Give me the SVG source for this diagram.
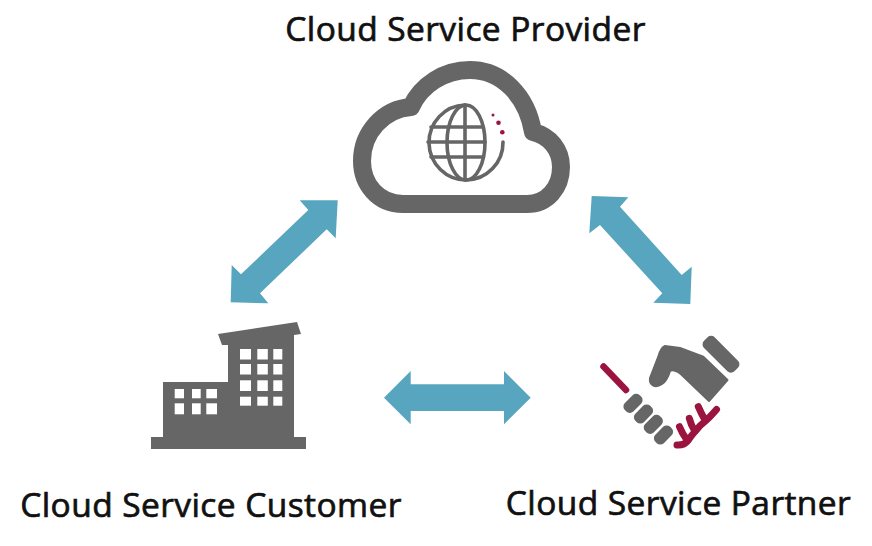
<svg xmlns="http://www.w3.org/2000/svg" width="872" height="546" viewBox="0 0 872 546">
<style>
.t{font-family:"Open Sans","Noto Sans","Liberation Sans",sans-serif;font-weight:400;font-size:33.5px;letter-spacing:.42px;fill:#111;stroke:#111;stroke-width:.7px}
.g{fill:#666}
.gl{fill:none;stroke:#666;stroke-linecap:round;stroke-linejoin:round}
.r{fill:none;stroke:#9b1440;stroke-linecap:round;stroke-linejoin:round}
.w{fill:#fff}
.a{fill:#57a5bf}
</style>
<rect width="872" height="546" fill="#fff"/>
<g id="connectors">
<polygon class="a" points="337.7,200.3 299.7,200.3 308.3,210 241,274.3 231.7,265 230.7,302.3 268.3,303.3 260,293.3 326.7,229.3 335.7,238.3"/>
<polygon class="a" points="591.7,196 628.3,197.3 620,206.7 681.7,275 691.7,266.7 690.3,304 653.3,302.7 662.3,293.3 600,225 589.3,233.3"/>
<polygon class="a" points="384,397.7 410.7,371 410.7,384.3 504,384.3 504,371 530.7,397.7 504,424.3 504,411 410.7,411 410.7,424.3"/>
</g>
<g id="provider">
<text class="t" x="465.5" y="41" text-anchor="middle">Cloud Service Provider</text>
<path class="gl" stroke-width="18" d="M403,204 C378,204 362,184 362,161 C362,132 384,109 411,107 C421,85 444,70 470,70 C502,70 527,96 533,132 C550,136 561,150 561,167 C561,188 547,204 527,204 Z"/>
<path class="gl" stroke-width="3.6" d="M465,105 A37,37.5 0 1 0 503,142"/>
<ellipse cx="466" cy="142.500" rx="19" ry="37.500" fill="none" stroke="#666" stroke-width="3.600"/>
<path class="gl" stroke-width="3.600" d="M465,105V180M431,127H483M428,142H485M431,157H483"/>
<circle cx="493" cy="115" r="1.500" fill="#9b1440"/>
<circle cx="498.500" cy="122.700" r="2.300" fill="#9b1440"/>
<circle cx="502.300" cy="132.300" r="2.300" fill="#9b1440"/>
</g>
<g id="customer">
<polygon class="g" points="151,437 163,437 163,382 228,382 228,345 222,345 218,334 297,322 301,334 294,335 294,437 306,437 306,449 151,449"/>
<g class="w">
<rect x="240" y="349" width="11" height="10.500"/><rect x="257.300" y="349" width="10.500" height="10.500"/><rect x="273.300" y="349" width="9" height="10.500"/>
<rect x="240" y="364" width="11" height="10.500"/><rect x="257.300" y="364" width="10.500" height="10.500"/><rect x="273.300" y="364" width="9" height="10.500"/>
<rect x="240" y="380.300" width="11" height="10.700"/><rect x="257.300" y="380.300" width="10.500" height="10.700"/><rect x="273.300" y="380.300" width="9" height="10.700"/>
<rect x="240" y="396.700" width="11" height="9"/><rect x="257.300" y="396.700" width="10.500" height="9"/><rect x="273.300" y="396.700" width="9" height="9"/>
<rect x="174.700" y="389" width="9.300" height="9.300"/><rect x="192" y="389" width="8.700" height="9.300"/><rect x="206.300" y="389" width="10.700" height="9.300"/>
<rect x="174.700" y="403.300" width="9.300" height="11"/><rect x="192" y="403.300" width="8.700" height="11"/><rect x="206.300" y="403.300" width="10.700" height="11"/>
</g>
<text class="t" x="211" y="517" text-anchor="middle">Cloud Service Customer</text>
</g>
<g id="partner">
<path class="r" stroke-width="6.500" d="M603.500,366.500L626,390"/>
<g class="g">
<rect x="-10.500" y="-6" width="21" height="12" rx="5" transform="translate(633,403.300) rotate(-45)"/>
<rect x="-10.500" y="-6" width="21" height="12" rx="5" transform="translate(643.500,414) rotate(-45)"/>
<rect x="-10.500" y="-6" width="21" height="12" rx="5" transform="translate(653.300,424.300) rotate(-45)"/>
<rect x="-10.500" y="-6" width="21" height="12" rx="5" transform="translate(663.500,435) rotate(-45)"/>
<rect x="-21.500" y="-7.500" width="43" height="15" rx="5" transform="translate(721,354.300) rotate(45)"/>
</g>
<path fill="#666" stroke="#666" stroke-width="2" stroke-linejoin="round" d="M665,346 L680,348 L703.300,356.700 L727.500,380 L709,401 L680,373.300 Q673,369 670,371 Q667,381 662,384 C655,389 649,385 650,378 L658.300,356.700 Q661,347 665,346 Z"/>
<path class="r" stroke-width="7" d="M677,445 Q684,445.500 688,440.500 Q691,436 695,431.500 Q700,425 705.500,421 Q710,417 716.500,409.500M679.500,426.700Q682,433 687,440M689.300,418.300Q691,425 695,431.500M698.300,406.700Q701,413 705.500,421"/>
<text class="t" x="678.500" y="515" text-anchor="middle">Cloud Service Partner</text>
</g>
</svg>
